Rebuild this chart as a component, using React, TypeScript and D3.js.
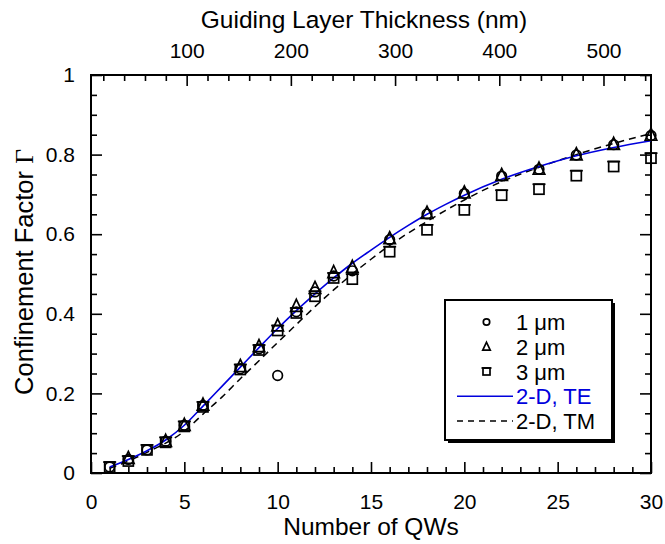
import React, { useEffect, useRef } from 'react';
import * as d3 from 'd3';

// number of QWs for each measured set
const qw1um = [1, 2, 3, 4, 5, 6, 8, 9, 10, 11, 12, 13, 14, 16, 18, 20, 22, 24, 26, 28, 30];
const gamma1um = [0.015, 0.034, 0.058, 0.08, 0.12, 0.17, 0.262, 0.312, 0.245, 0.405, 0.455, 0.495, 0.508, 0.586, 0.651, 0.702, 0.746, 0.763, 0.799, 0.825, 0.848];

const qw2um = [2, 4, 5, 6, 8, 9, 10, 11, 12, 13, 14, 16, 18, 20, 22, 24, 26, 28, 30];
const gamma2um = [0.037, 0.08, 0.12, 0.171, 0.268, 0.318, 0.37, 0.419, 0.464, 0.504, 0.517, 0.589, 0.653, 0.704, 0.748, 0.764, 0.8, 0.826, 0.849];

const qw3um = [1, 2, 3, 4, 5, 6, 8, 9, 10, 11, 12, 13, 14, 16, 18, 20, 22, 24, 26, 28, 30];
const gamma3um = [0.015, 0.03, 0.058, 0.077, 0.117, 0.166, 0.26, 0.309, 0.358, 0.402, 0.444, 0.49, 0.487, 0.556, 0.611, 0.661, 0.698, 0.713, 0.747, 0.77, 0.791];

// 2-D simulation curves
const qwSim = [1, 2, 3, 4, 5, 6, 7, 8, 9, 10, 11, 12, 13, 14, 15, 16, 17, 18, 19, 20, 22, 24, 26, 28, 30];
const gammaTE = [0.015, 0.034, 0.056, 0.083, 0.12, 0.168, 0.217, 0.266, 0.315, 0.363, 0.408, 0.45, 0.49, 0.527, 0.56, 0.592, 0.622, 0.65, 0.675, 0.698, 0.738, 0.77, 0.797, 0.818, 0.835];
const gammaTM = [0.012, 0.03, 0.052, 0.075, 0.105, 0.148, 0.19, 0.237, 0.282, 0.328, 0.373, 0.418, 0.46, 0.5, 0.537, 0.572, 0.603, 0.632, 0.66, 0.686, 0.732, 0.768, 0.8, 0.828, 0.853];

const xTicks = [0, 5, 10, 15, 20, 25, 30];
const yTicks = [0, 0.2, 0.4, 0.6, 0.8, 1];
const topTicks = [100, 200, 300, 400, 500];

const legendItems = ['1 \u03bcm', '2 \u03bcm', '3 \u03bcm', '2-D, TE', '2-D, TM'];

const FONT = 'Liberation Sans, Arial, sans-serif';

export default function App() {
  const ref = useRef<SVGSVGElement>(null);

  useEffect(() => {
    const svg = d3.select(ref.current);
    svg.selectAll('*').remove();

    const left = 91, right = 651, top = 75, bottom = 473;

    const x = d3.scaleLinear().domain([0, 30]).range([left, right]);
    const y = d3.scaleLinear().domain([0, 1]).range([bottom, top]);
    const xTop = d3.scaleLinear().domain([8.2, 545.6]).range([left, right]);

    const minorX = d3.range(1, 30).filter(v => v % 5 !== 0);
    const minorY = d3.range(1, 20).map(v => v * 0.05).filter((v, i) => (i + 1) % 4 !== 0);
    const minorTop = d3.range(20, 546, 20).filter(v => v % 100 !== 0);

    const styleAxis = (g: any) => {
      g.select('.domain').remove();
      g.selectAll('line').attr('stroke', '#000').attr('stroke-width', 1.6);
      g.selectAll('text').attr('font-family', FONT).attr('font-size', 21).attr('fill', '#000');
    };

    // bottom
    svg.append('g').attr('transform', `translate(0,${bottom})`)
      .call(d3.axisBottom(x).tickValues(xTicks).tickSize(-11).tickPadding(21).tickFormat(d3.format('d')))
      .call(styleAxis);
    svg.append('g').attr('transform', `translate(0,${bottom})`)
      .call(d3.axisBottom(x).tickValues(minorX).tickSize(-6).tickFormat(() => ''))
      .call(styleAxis);

    // top
    svg.append('g').attr('transform', `translate(0,${top})`)
      .call(d3.axisTop(xTop).tickValues(topTicks).tickSize(-11).tickPadding(17).tickFormat(d3.format('d')))
      .call(styleAxis);
    svg.append('g').attr('transform', `translate(0,${top})`)
      .call(d3.axisTop(xTop).tickValues(minorTop).tickSize(-6).tickFormat(() => ''))
      .call(styleAxis);

    // left
    svg.append('g').attr('transform', `translate(${left},0)`)
      .call(d3.axisLeft(y).tickValues(yTicks).tickSize(-11).tickPadding(16)
        .tickFormat((d: any) => (d === 0 ? '0' : d === 1 ? '1' : d.toFixed(1))))
      .call(styleAxis);
    svg.append('g').attr('transform', `translate(${left},0)`)
      .call(d3.axisLeft(y).tickValues(minorY).tickSize(-6).tickFormat(() => ''))
      .call(styleAxis);

    // right
    svg.append('g').attr('transform', `translate(${right},0)`)
      .call(d3.axisRight(y).tickValues(yTicks).tickSize(-11).tickFormat(() => ''))
      .call(styleAxis);
    svg.append('g').attr('transform', `translate(${right},0)`)
      .call(d3.axisRight(y).tickValues(minorY).tickSize(-6).tickFormat(() => ''))
      .call(styleAxis);

    // frame
    svg.append('rect')
      .attr('x', left).attr('y', top)
      .attr('width', right - left).attr('height', bottom - top)
      .attr('fill', 'none').attr('stroke', '#000').attr('stroke-width', 2);

    // axis titles
    svg.append('text')
      .attr('x', 364).attr('y', 28)
      .attr('text-anchor', 'middle')
      .attr('font-family', FONT).attr('font-size', 24.5)
      .text('Guiding Layer Thickness (nm)');

    svg.append('text')
      .attr('x', 371).attr('y', 535)
      .attr('text-anchor', 'middle')
      .attr('font-family', FONT).attr('font-size', 24.5)
      .text('Number of QWs');

    const yl = svg.append('text')
      .attr('transform', `translate(33,272) rotate(-90)`)
      .attr('text-anchor', 'middle')
      .attr('font-family', FONT).attr('font-size', 25.5);
    yl.append('tspan').text('Confinement Factor ');
    yl.append('tspan').attr('font-family', 'Liberation Serif, Times New Roman, serif').text('\u0393');

    // curves
    const line = d3.line<number>()
      .x((d, i) => x(qwSim[i]))
      .y(d => y(d))
      .curve(d3.curveMonotoneX);

    svg.append('path').attr('d', line(gammaTM))
      .attr('fill', 'none').attr('stroke', '#000').attr('stroke-width', 1.5)
      .attr('stroke-dasharray', '7,5');
    svg.append('path').attr('d', line(gammaTE))
      .attr('fill', 'none').attr('stroke', '#0000dd').attr('stroke-width', 1.6);

    // markers
    const circle = (g: any, cx: number, cy: number, r: number) =>
      g.append('circle').attr('cx', cx).attr('cy', cy).attr('r', r)
        .attr('fill', 'none').attr('stroke', '#000').attr('stroke-width', 1.7);

    const triangle = (g: any, cx: number, cy: number, s: number) =>
      g.append('path')
        .attr('d', `M${cx},${cy - s * 0.6}L${cx + s / 2},${cy + s * 0.45}L${cx - s / 2},${cy + s * 0.45}Z`)
        .attr('fill', 'none').attr('stroke', '#000').attr('stroke-width', 1.7);

    const square = (g: any, cx: number, cy: number, s: number) => {
      g.append('rect').attr('x', cx - s / 2).attr('y', cy - s / 2)
        .attr('width', s).attr('height', s)
        .attr('fill', 'none').attr('stroke', '#000').attr('stroke-width', 1.7);
      g.append('line').attr('x1', cx - s / 2 - 1.5).attr('x2', cx + s / 2 + 1.5)
        .attr('y1', cy - s / 2).attr('y2', cy - s / 2)
        .attr('stroke', '#000').attr('stroke-width', 1.7);
    };

    const marks = svg.append('g');
    qw3um.forEach((n, i) => square(marks, x(n), y(gamma3um[i]), 10));
    qw2um.forEach((n, i) => triangle(marks, x(n), y(gamma2um[i]), 11.5));
    qw1um.forEach((n, i) => circle(marks, x(n), y(gamma1um[i]), 4.8));

    // legend
    const lg = svg.append('g');
    const lx = 445, ly = 300, lw = 167, lh = 140;
    lg.append('rect').attr('x', lx + 3).attr('y', ly + 3).attr('width', lw).attr('height', lh).attr('fill', '#000');
    lg.append('rect').attr('x', lx).attr('y', ly).attr('width', lw).attr('height', lh)
      .attr('fill', '#fff').attr('stroke', '#000').attr('stroke-width', 2);

    const rowY = d3.scaleLinear().domain([0, 4]).range([322, 421]);
    const symX = 486.5;
    circle(lg, symX, rowY(0), 3.2);
    triangle(lg, symX, rowY(1), 7.5);
    square(lg, symX, rowY(2), 7);
    lg.append('line').attr('x1', 457).attr('x2', 513).attr('y1', rowY(3)).attr('y2', rowY(3))
      .attr('stroke', '#0000dd').attr('stroke-width', 1.6);
    lg.append('line').attr('x1', 457).attr('x2', 513).attr('y1', rowY(4)).attr('y2', rowY(4))
      .attr('stroke', '#000').attr('stroke-width', 1.5).attr('stroke-dasharray', '6,5');

    legendItems.forEach((t, i) => {
      lg.append('text')
        .attr('x', 516).attr('y', rowY(i) + 8)
        .attr('font-family', FONT).attr('font-size', 22)
        .attr('fill', i === 3 ? '#0000dd' : '#000')
        .text(t);
    });
  }, []);

  return (
    <svg ref={ref} width={665} height={544}
      style={{ position: 'absolute', left: 0, top: 0, background: '#fff' }} />
  );
}
